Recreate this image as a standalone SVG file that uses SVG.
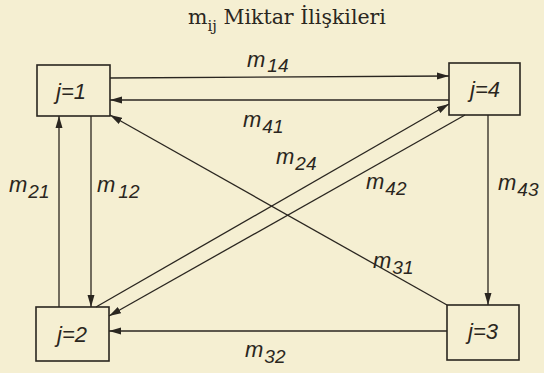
<svg xmlns="http://www.w3.org/2000/svg" width="544" height="373" viewBox="0 0 544 373">
<style>
.bg{fill:#f5efd2}
.box{fill:none;stroke:#2a2620;stroke-width:1.6}
.ln{fill:none;stroke:#2a2620;stroke-width:1.3}
.nt{font-family:"Liberation Sans",Arial,sans-serif;font-style:italic;font-size:22px;fill:#2a2620;text-anchor:middle}
.lb{font-family:"Liberation Sans",Arial,sans-serif;font-style:italic;font-size:22px;fill:#2a2620}
.sb{font-size:19px}
.ti{font-family:"DejaVu Serif","Liberation Serif",serif;font-size:20.5px;fill:#2a2620}
.ts{font-size:15px}
</style>
<defs>
<marker id="ah" viewBox="0 0 12 8" refX="12" refY="4" markerWidth="12" markerHeight="8" markerUnits="userSpaceOnUse" orient="auto">
<path d="M0,0.5 L12,4 L0,7.5 Z" fill="#2a2620"/>
</marker>
</defs>
<rect class="bg" x="0" y="0" width="544" height="373"/>
<text class="ti" x="188" y="24">m<tspan class="ts" dy="7">ij</tspan><tspan dy="-7"> Miktar İlişkileri</tspan></text>

<g id="connectors">
<line class="ln" x1="110" y1="78" x2="449" y2="76" marker-end="url(#ah)"/>
<line class="ln" x1="449" y1="100" x2="110" y2="100" marker-end="url(#ah)"/>
<line class="ln" x1="59" y1="307" x2="59" y2="116" marker-end="url(#ah)"/>
<line class="ln" x1="91" y1="116" x2="91" y2="307" marker-end="url(#ah)"/>
<line class="ln" x1="488" y1="115" x2="488" y2="305" marker-end="url(#ah)"/>
<line class="ln" x1="447" y1="331" x2="109" y2="331" marker-end="url(#ah)"/>
<line class="ln" x1="447" y1="305" x2="110" y2="115" marker-end="url(#ah)"/>
<line class="ln" x1="96" y1="307" x2="449" y2="104" marker-end="url(#ah)"/>
<line class="ln" x1="465" y1="115" x2="109" y2="316" marker-end="url(#ah)"/>
</g>

<g id="labels">
<text class="lb" x="247" y="67">m<tspan class="sb" dx="2" dy="5">14</tspan></text>
<text class="lb" x="243" y="127">m<tspan class="sb" dx="1" dy="6">41</tspan></text>
<text class="lb" x="276" y="164">m<tspan class="sb" dx="1" dy="6">24</tspan></text>
<text class="lb" x="366" y="189">m<tspan class="sb" dx="1" dy="6">42</tspan></text>
<text class="lb" x="9" y="192">m<tspan class="sb" dx="1" dy="6">21</tspan></text>
<text class="lb" x="97" y="192">m<tspan class="sb" dx="3" dy="6">12</tspan></text>
<text class="lb" x="498" y="190">m<tspan class="sb" dx="1" dy="6">43</tspan></text>
<text class="lb" x="373" y="268">m<tspan class="sb" dx="1" dy="6">31</tspan></text>
<text class="lb" x="245" y="357">m<tspan class="sb" dx="1" dy="6">32</tspan></text>
</g>

<g id="node1"><rect class="box" x="37" y="65" width="73" height="51"/><text class="nt" x="71" y="99">j=1</text></g>
<g id="node4"><rect class="box" x="449" y="63" width="71" height="52"/><text class="nt" x="485" y="97">j=4</text></g>
<g id="node2"><rect class="box" x="36" y="307" width="73" height="54"/><text class="nt" x="72" y="342">j=2</text></g>
<g id="node3"><rect class="box" x="447" y="305" width="72" height="55"/><text class="nt" x="483" y="339">j=3</text></g>
</svg>
